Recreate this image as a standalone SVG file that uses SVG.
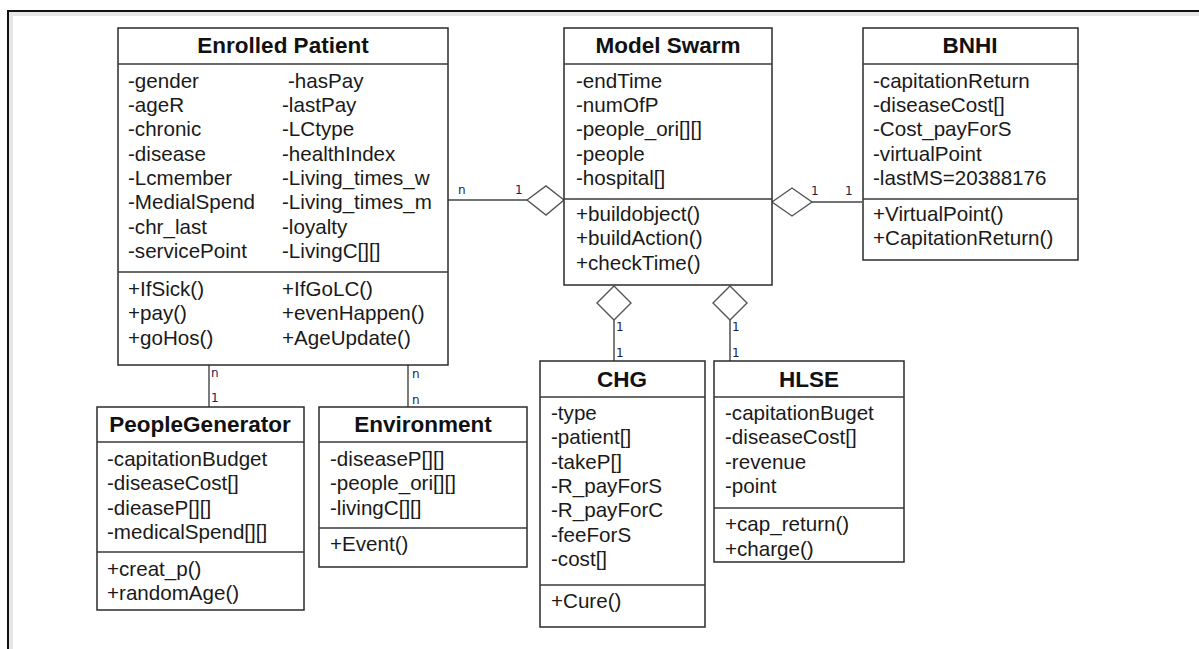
<svg xmlns="http://www.w3.org/2000/svg" width="1199" height="649" viewBox="0 0 1199 649">
<style>
.box{fill:#fff;stroke:#2b2b2b;stroke-width:1.5}
.sep{stroke:#3a3a3a;stroke-width:1.3}
.t{font-family:"Liberation Sans",Arial,sans-serif;font-size:20.6px;fill:#1a1a1a}
.h{font-family:"Liberation Sans",Arial,sans-serif;font-size:22.5px;font-weight:bold;fill:#111;text-anchor:middle}
.ln{stroke:#444;stroke-width:1.4;fill:none}
.dm{fill:#fff;stroke:#555;stroke-width:1.4}
.m{font-family:"DejaVu Sans",sans-serif;font-size:12px;fill:#1c1c4a}
</style>
<rect width="1199" height="649" fill="#fff"/>
<path d="M9,649 V12 H1199" fill="none" stroke="#e6e6e6" stroke-width="4" transform="translate(2,2)"/>
<path d="M8,649 V11 H1199" fill="none" stroke="#111" stroke-width="2"/>

<g id="connectors">
<line class="ln" x1="448" y1="200" x2="527" y2="200"/>
<polygon class="dm" points="527,200 546,186 564,200 546,215"/>
<text class="m" x="458" y="194">n</text>
<text class="m" x="515" y="194">1</text>
<line class="ln" x1="812" y1="202" x2="862" y2="202"/>
<polygon class="dm" points="772,202 792,188 812,202 792,216"/>
<text class="m" x="811" y="195">1</text>
<text class="m" x="845" y="195">1</text>
<line class="ln" x1="614" y1="320" x2="614" y2="361"/>
<polygon class="dm" points="614,286 631,303 614,320 597,303"/>
<text class="m" x="616" y="331">1</text>
<text class="m" x="616" y="357">1</text>
<line class="ln" x1="730" y1="320" x2="730" y2="361"/>
<polygon class="dm" points="730,286 747,303 730,320 713,303"/>
<text class="m" x="732" y="331">1</text>
<text class="m" x="732" y="357">1</text>
<line class="ln" x1="209" y1="365" x2="209" y2="407"/>
<text class="m" x="211" y="377">n</text>
<text class="m" x="211" y="402">1</text>
<line class="ln" x1="408" y1="365" x2="408" y2="407"/>
<text class="m" x="412" y="378">n</text>
<text class="m" x="412" y="404">n</text>
</g>

<g id="enrolled-patient">
<rect class="box" x="118" y="28" width="330" height="337"/>
<line class="sep" x1="118" y1="64" x2="448" y2="64"/>
<line class="sep" x1="118" y1="272" x2="448" y2="272"/>
<text class="h" x="283" y="53">Enrolled Patient</text>
<text class="t" x="128" y="88">-gender</text>
<text class="t" x="128" y="112">-ageR</text>
<text class="t" x="128" y="136">-chronic</text>
<text class="t" x="128" y="161">-disease</text>
<text class="t" x="128" y="185">-Lcmember</text>
<text class="t" x="128" y="209">-MedialSpend</text>
<text class="t" x="128" y="234">-chr_last</text>
<text class="t" x="128" y="258">-servicePoint</text>
<text class="t" x="288" y="88">-hasPay</text>
<text class="t" x="282" y="112">-lastPay</text>
<text class="t" x="282" y="136">-LCtype</text>
<text class="t" x="282" y="161">-healthIndex</text>
<text class="t" x="282" y="185">-Living_times_w</text>
<text class="t" x="282" y="209">-Living_times_m</text>
<text class="t" x="282" y="234">-loyalty</text>
<text class="t" x="282" y="258">-LivingC[][]</text>
<text class="t" x="128" y="296">+IfSick()</text>
<text class="t" x="128" y="320">+pay()</text>
<text class="t" x="128" y="345">+goHos()</text>
<text class="t" x="282" y="296">+IfGoLC()</text>
<text class="t" x="282" y="320">+evenHappen()</text>
<text class="t" x="282" y="345">+AgeUpdate()</text>
</g>

<g id="model-swarm">
<rect class="box" x="564" y="28" width="208" height="257"/>
<line class="sep" x1="564" y1="64" x2="772" y2="64"/>
<line class="sep" x1="564" y1="199" x2="772" y2="199"/>
<text class="h" x="668" y="53">Model Swarm</text>
<text class="t" x="576" y="88">-endTime</text>
<text class="t" x="576" y="112">-numOfP</text>
<text class="t" x="576" y="136">-people_ori[][]</text>
<text class="t" x="576" y="161">-people</text>
<text class="t" x="576" y="185">-hospital[]</text>
<text class="t" x="576" y="221">+buildobject()</text>
<text class="t" x="576" y="245">+buildAction()</text>
<text class="t" x="576" y="270">+checkTime()</text>
</g>

<g id="bnhi">
<rect class="box" x="863" y="28" width="215" height="232"/>
<line class="sep" x1="863" y1="64" x2="1078" y2="64"/>
<line class="sep" x1="863" y1="199" x2="1078" y2="199"/>
<text class="h" x="970" y="53">BNHI</text>
<text class="t" x="873" y="88">-capitationReturn</text>
<text class="t" x="873" y="112">-diseaseCost[]</text>
<text class="t" x="873" y="136">-Cost_payForS</text>
<text class="t" x="873" y="161">-virtualPoint</text>
<text class="t" x="873" y="185">-lastMS=20388176</text>
<text class="t" x="873" y="221">+VirtualPoint()</text>
<text class="t" x="873" y="245">+CapitationReturn()</text>
</g>

<g id="people-generator">
<rect class="box" x="97" y="407" width="207" height="203"/>
<line class="sep" x1="97" y1="442" x2="304" y2="442"/>
<line class="sep" x1="97" y1="552" x2="304" y2="552"/>
<text class="h" x="200" y="432">PeopleGenerator</text>
<text class="t" x="107" y="466">-capitationBudget</text>
<text class="t" x="107" y="490">-diseaseCost[]</text>
<text class="t" x="107" y="515">-dieaseP[][]</text>
<text class="t" x="107" y="539">-medicalSpend[][]</text>
<text class="t" x="107" y="576">+creat_p()</text>
<text class="t" x="107" y="600">+randomAge()</text>
</g>

<g id="environment">
<rect class="box" x="319" y="407" width="208" height="160"/>
<line class="sep" x1="319" y1="442" x2="527" y2="442"/>
<line class="sep" x1="319" y1="528" x2="527" y2="528"/>
<text class="h" x="423" y="432">Environment</text>
<text class="t" x="330" y="466">-diseaseP[][]</text>
<text class="t" x="330" y="490">-people_ori[][]</text>
<text class="t" x="330" y="515">-livingC[][]</text>
<text class="t" x="330" y="551">+Event()</text>
</g>

<g id="chg">
<rect class="box" x="540" y="361" width="165" height="266"/>
<line class="sep" x1="540" y1="397" x2="705" y2="397"/>
<line class="sep" x1="540" y1="585" x2="705" y2="585"/>
<text class="h" x="622" y="387">CHG</text>
<text class="t" x="551" y="420">-type</text>
<text class="t" x="551" y="444">-patient[]</text>
<text class="t" x="551" y="469">-takeP[]</text>
<text class="t" x="551" y="493">-R_payForS</text>
<text class="t" x="551" y="517">-R_payForC</text>
<text class="t" x="551" y="542">-feeForS</text>
<text class="t" x="551" y="566">-cost[]</text>
<text class="t" x="551" y="608">+Cure()</text>
</g>

<g id="hlse">
<rect class="box" x="714" y="361" width="190" height="201"/>
<line class="sep" x1="714" y1="397" x2="904" y2="397"/>
<line class="sep" x1="714" y1="508" x2="904" y2="508"/>
<text class="h" x="809" y="387">HLSE</text>
<text class="t" x="725" y="420">-capitationBuget</text>
<text class="t" x="725" y="444">-diseaseCost[]</text>
<text class="t" x="725" y="469">-revenue</text>
<text class="t" x="725" y="493">-point</text>
<text class="t" x="725" y="531">+cap_return()</text>
<text class="t" x="725" y="556">+charge()</text>
</g>
</svg>
